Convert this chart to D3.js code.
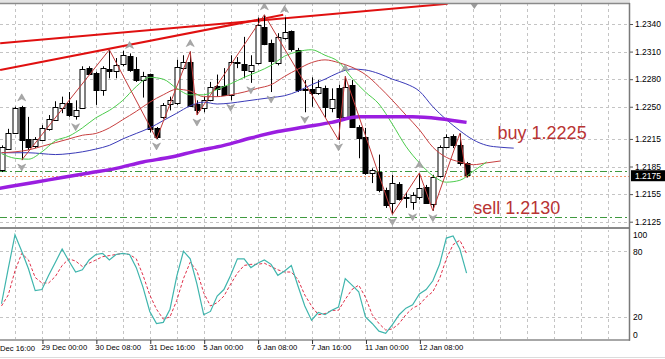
<!DOCTYPE html>
<html>
<head>
<meta charset="utf-8">
<script src="https://d3js.org/d3.v7.min.js"></script>
<style>
  body { margin: 0; background: #fff; }
  svg { display: block; }
</style>
</head>
<body>
<div id="chart"></div>
<script>
const WIDTH = 665, HEIGHT = 359;
const AXIS_X = 630;
const MAIN = { TOP: 3, BOTTOM: 227 };
const STO = { TOP: 229, BOTTOM: 340 };

// H4 candles, one entry per bar
const barOpen  = [1.2181,1.2205,1.2222,1.2250,1.2215,1.2207,1.2214,1.2226,1.2236,1.2249,1.2254,1.2240,1.2249,1.2292,1.2287,1.2268,1.2291,1.2288,1.2296,1.2305,1.2291,1.2279,1.2286,1.2227,1.2239,1.2253,1.2254,1.2292,1.2299,1.2253,1.2248,1.2258,1.2273,1.2273,1.2263,1.2299,1.2296,1.2288,1.2298,1.2337,1.2319,1.2298,1.2325,1.2332,1.2312,1.2269,1.2269,1.2265,1.2270,1.2248,1.2270,1.2239,1.2274,1.2228,1.2217,1.2178,1.2179,1.2159,1.2145,1.2166,1.2152,1.2146,1.2152,1.2163,1.2145,1.2174,1.2206,1.2218,1.2208,1.2189];
const barHigh  = [1.2208,1.2226,1.2250,1.2251,1.2239,1.2217,1.2230,1.2241,1.2256,1.2261,1.2266,1.2257,1.2294,1.2294,1.2288,1.2294,1.2312,1.2303,1.2311,1.2308,1.2304,1.2288,1.2286,1.2228,1.2254,1.2261,1.2301,1.2306,1.2310,1.2257,1.2261,1.2277,1.2285,1.2292,1.2306,1.2304,1.2326,1.2306,1.2347,1.2350,1.2323,1.2330,1.2347,1.2333,1.2314,1.2279,1.2282,1.2279,1.2273,1.2270,1.2274,1.2283,1.2279,1.2230,1.2227,1.2183,1.2198,1.2162,1.2176,1.2168,1.2157,1.2157,1.2178,1.2165,1.2176,1.2208,1.2220,1.2220,1.2221,1.2190];
const barLow   = [1.2179,1.2203,1.2221,1.2192,1.2203,1.2205,1.2213,1.2224,1.2235,1.2243,1.2239,1.2236,1.2248,1.2285,1.2252,1.2262,1.2281,1.2281,1.2294,1.2288,1.2277,1.2260,1.2222,1.2215,1.2237,1.2246,1.2252,1.2290,1.2250,1.2241,1.2244,1.2256,1.2261,1.2262,1.2257,1.2292,1.2281,1.2276,1.2296,1.2317,1.2266,1.2295,1.2323,1.2310,1.2266,1.2244,1.2250,1.2263,1.2238,1.2244,1.2214,1.2236,1.2227,1.2194,1.2176,1.2167,1.2157,1.2140,1.2133,1.2148,1.2140,1.2138,1.2149,1.2145,1.2137,1.2173,1.2205,1.2205,1.2186,1.2173];
const barClose = [1.2206,1.2222,1.2249,1.2214,1.2206,1.2215,1.2227,1.2237,1.2250,1.2254,1.2241,1.2246,1.2291,1.2286,1.2268,1.2292,1.2289,1.2295,1.2306,1.2290,1.2279,1.2283,1.2226,1.2217,1.2252,1.2257,1.2293,1.2299,1.2251,1.2246,1.2257,1.2272,1.2270,1.2263,1.2299,1.2298,1.2289,1.2295,1.2339,1.2319,1.2299,1.2326,1.2331,1.2312,1.2268,1.2268,1.2265,1.2272,1.2249,1.2258,1.2239,1.2272,1.2228,1.2216,1.2178,1.2181,1.2159,1.2143,1.2167,1.2150,1.2151,1.2154,1.2162,1.2146,1.2174,1.2206,1.2217,1.2208,1.2188,1.2176];

// shifted averages, read every 2nd bar from bar 0
const lips  = [1.2199,1.2194,1.2193,1.2201,1.2213,1.2218,1.2227,1.2238,1.2246,1.2257,1.2272,1.2282,1.2280,1.2270,1.2263,1.2263,1.2269,1.2275,1.2282,1.2288,1.2295,1.2305,1.2310,1.2312,1.2306,1.2299,1.2281,1.2266,1.2253,1.2231,1.2207,1.2189,1.2175,1.2168,1.2170,1.2180,1.2190];
const teeth = [1.2200,1.2201,1.2203,1.2207,1.2211,1.2215,1.2219,1.2221,1.2227,1.2236,1.2245,1.2255,1.2263,1.2269,1.2267,1.2261,1.2261,1.2263,1.2266,1.2270,1.2274,1.2283,1.2291,1.2298,1.2301,1.2298,1.2293,1.2285,1.2272,1.2257,1.2241,1.2225,1.2206,1.2195,1.2190,1.2187,1.2189,1.2191];
const jaw   = [1.2200,1.2200,1.2200,1.2199,1.2198,1.2199,1.2201,1.2204,1.2208,1.2215,1.2221,1.2227,1.2235,1.2243,1.2251,1.2255,1.2253,1.2254,1.2256,1.2258,1.2260,1.2262,1.2267,1.2274,1.2280,1.2287,1.2291,1.2290,1.2286,1.2280,1.2275,1.2267,1.2250,1.2236,1.2224,1.2214,1.2208,1.2206,1.2205];
// long average, read every 4th bar from bar -3
const longMa = [1.2158,1.2163,1.2168,1.2173,1.2178,1.2183,1.2190,1.2195,1.2202,1.2208,1.2216,1.2223,1.2228,1.2233,1.2239,1.2239,1.2239,1.2237,1.2233];

// zigzag turning bars, starting on a low
const zigzagBars = [3,16,23,28,29,39,50,51,58,62,64,68,69];
const fractalUp = [3,19,28,39,42,51,62];
const fractalDown = [3,11,23,29,34,37,40,45,50,58,61,64];

// trend lines: [bar, price, bar, price]
const trendLines = [[-0.2,1.2319,66.2,1.2362],[-0.2,1.2290,41.8,1.2350]];
const levelLines = [1.2180, 1.2130];
const bidPrice = 1.2175;
const notes = [{ text: "buy 1.2225", bar: 73.6, price: 1.2215 }, { text: "sell 1.2130", bar: 70, price: 1.2133 }];

// stochastic, one value per bar
const stoMain   = [32,64,95,80,64,44,45,58,70,82,71,61,63,72,77,78,72,77,78,77,65,47,25,14,15,27,57,80,73,50,22,25,39,45,58,73,73,65,69,72,68,58,62,67,48,30,17,24,22,26,29,55,49,43,20,14,7,5,13,22,28,31,41,45,53,68,92,94,82,60];
const stoSignal = [30,40,62,78,72,56,51,51,57,67,73,71,66,69,72,75,76,77,78,77,73,58,40,27,18,20,35,55,70,62,42,30,33,39,50,60,67,68,68,69,66,63,61,61,54,40,30,22,23,26,26,36,45,49,38,22,14,8,9,14,22,28,31,38,43,55,73,86,90,78];

const priceTicks = [1.2340,1.2310,1.2280,1.2250,1.2215,1.2185,1.2155,1.2125];
const stoTicks = [100,80,20,0];
const timeBars = [6,14,22,30,38,46,54,62];
const timeLabels = ["29 Dec 00:00","30 Dec 08:00","31 Dec 16:00","5 Jan 00:00","6 Jan 08:00","7 Jan 16:00","11 Jan 00:00","12 Jan 08:00"];
const gridBars = d3.range(2, 92, 4);

const FONT = "Liberation Sans, Arial, sans-serif";

const x = d3.scaleLinear().domain([0, 90]).range([1.5, 1.5 + 6.74 * 90]);
const y = d3.scaleLinear().domain([1.2125, 1.2340]).range([221.7, 24]);
const ys = d3.scaleLinear().domain([0, 100]).range([338.8, 229.3]);

const svg = d3.select('#chart')
    .append('svg')
    .attr('width', WIDTH)
    .attr('height', HEIGHT);

svg.append('rect').attr('width', WIDTH).attr('height', HEIGHT).attr('fill', '#fff');

const defs = svg.append('defs');
defs.append('clipPath').attr('id', 'clip-main')
    .append('rect').attr('x', 0).attr('y', MAIN.TOP + 1).attr('width', AXIS_X).attr('height', MAIN.BOTTOM - MAIN.TOP - 1);
defs.append('clipPath').attr('id', 'clip-sto')
    .append('rect').attr('x', 0).attr('y', STO.TOP + 1).attr('width', AXIS_X).attr('height', STO.BOTTOM - STO.TOP - 2);

const main = svg.append('g').attr('clip-path', 'url(#clip-main)');
const sto = svg.append('g').attr('clip-path', 'url(#clip-sto)');

// grid
[[main, MAIN], [sto, STO]].forEach(([g, p]) => {
  g.selectAll('.vgrid').data(gridBars).enter().append('line')
      .attr('x1', d => Math.round(x(d)) + 0.5).attr('x2', d => Math.round(x(d)) + 0.5)
      .attr('y1', p.TOP).attr('y2', p.BOTTOM)
      .attr('stroke', '#c4c4c4').attr('stroke-dasharray', '3,3');
});
main.selectAll('.hgrid').data(priceTicks).enter().append('line')
    .attr('x1', 0).attr('x2', AXIS_X)
    .attr('y1', d => Math.round(y(d)) + 0.5).attr('y2', d => Math.round(y(d)) + 0.5)
    .attr('stroke', '#c4c4c4').attr('stroke-dasharray', '3,3');
sto.selectAll('.hgrid').data([80, 20]).enter().append('line')
    .attr('x1', 0).attr('x2', AXIS_X)
    .attr('y1', d => Math.round(ys(d)) + 0.5).attr('y2', d => Math.round(ys(d)) + 0.5)
    .attr('stroke', '#c4c4c4').attr('stroke-dasharray', '3,3');

// level lines
main.selectAll('.level').data(levelLines).enter().append('line')
    .attr('x1', 0).attr('x2', AXIS_X)
    .attr('y1', d => Math.round(y(d)) + 0.5).attr('y2', d => Math.round(y(d)) + 0.5)
    .attr('stroke', '#3f9a3f').attr('stroke-dasharray', '7,3,2,3');
main.append('line')
    .attr('x1', 0).attr('x2', AXIS_X)
    .attr('y1', Math.round(y(bidPrice)) + 0.5).attr('y2', Math.round(y(bidPrice)) + 0.5)
    .attr('stroke', '#f0926a').attr('stroke-dasharray', '2,2');

// trend lines
main.selectAll('.trend').data(trendLines).enter().append('line')
    .attr('x1', d => x(d[0])).attr('y1', d => y(d[1]))
    .attr('x2', d => x(d[2])).attr('y2', d => y(d[3]))
    .attr('stroke', '#e01010').attr('stroke-width', 2);

// candles
const bars = d3.range(barOpen.length);
main.selectAll('.wick').data(bars).enter().append('line')
    .attr('x1', i => Math.round(x(i)) + 0.5).attr('x2', i => Math.round(x(i)) + 0.5)
    .attr('y1', i => y(barHigh[i])).attr('y2', i => y(barLow[i]))
    .attr('stroke', '#000');
main.selectAll('.body').data(bars).enter().append('rect')
    .attr('x', i => Math.round(x(i)) - 2)
    .attr('y', i => Math.round(y(Math.max(barOpen[i], barClose[i]))) + 0.5)
    .attr('width', 5)
    .attr('height', i => Math.max(1, Math.round(Math.abs(y(barOpen[i]) - y(barClose[i])))))
    .attr('fill', i => barClose[i] >= barOpen[i] ? '#fff' : '#000')
    .attr('stroke', '#000');

// moving averages
const maLine = d3.line().x(d => x(d[0])).y(d => y(d[1])).curve(d3.curveMonotoneX);
const maSpecs = [
  { vals: jaw, start: 0, step: 2, color: '#3a3ab8', width: 1 },
  { vals: teeth, start: 0, step: 2, color: '#c84040', width: 1 },
  { vals: lips, start: 0, step: 2, color: '#4ccc4c', width: 1 },
  { vals: longMa, start: -3, step: 4, color: '#9a1ee0', width: 3.5 }
];
maSpecs.forEach(s => {
  main.append('path')
      .datum(s.vals.map((v, k) => [s.start + k * s.step, v]))
      .attr('d', maLine)
      .attr('fill', 'none')
      .attr('stroke', s.color)
      .attr('stroke-width', s.width);
});

// zigzag
const zz = zigzagBars.map((b, k) => [b, k % 2 === 0 ? barLow[b] : barHigh[b]]);
main.append('path')
    .datum(zz)
    .attr('d', d3.line().x(d => x(d[0])).y(d => y(d[1])))
    .attr('fill', 'none')
    .attr('stroke', '#c23a3a')
    .attr('stroke-width', 1);

// fractal arrows
const arrowUp = 'M0,-4L4,3L0,1L-4,3Z';
main.selectAll('.fup').data(fractalUp).enter().append('path')
    .attr('d', arrowUp)
    .attr('transform', b => `translate(${x(b)},${y(barHigh[b]) - 8})`)
    .attr('fill', '#a8a8a8').attr('stroke', '#8c8c8c').attr('stroke-width', 0.5);
main.selectAll('.fdn').data(fractalDown).enter().append('path')
    .attr('d', arrowUp)
    .attr('transform', b => `translate(${x(b)},${y(barLow[b]) + 7}) scale(1,-1)`)
    .attr('fill', '#a8a8a8').attr('stroke', '#8c8c8c').attr('stroke-width', 0.5);

// notes
main.selectAll('.note').data(notes).enter().append('text')
    .attr('x', d => x(d.bar)).attr('y', d => y(d.price))
    .attr('font-family', FONT).attr('font-size', '18px')
    .attr('fill', '#b83434')
    .text(d => d.text);

// stochastic
const stoLine = d3.line().x((d, i) => x(i)).y(d => ys(d));
sto.append('path').datum(stoSignal).attr('d', stoLine)
    .attr('fill', 'none').attr('stroke', '#e0304a').attr('stroke-dasharray', '3,2');
sto.append('path').datum(stoMain).attr('d', stoLine)
    .attr('fill', 'none').attr('stroke', '#3fb5ad').attr('stroke-width', 1.2);

// frame
svg.append('rect').attr('x', 0).attr('y', 0).attr('width', AXIS_X).attr('height', MAIN.TOP).attr('fill', '#e4e4e4');
svg.append('line').attr('x1', 0).attr('x2', AXIS_X).attr('y1', MAIN.TOP + 0.5).attr('y2', MAIN.TOP + 0.5)
    .attr('stroke', '#8a8a8a').attr('stroke-width', 1.5);
svg.append('line').attr('x1', 0).attr('x2', AXIS_X).attr('y1', 228).attr('y2', 228)
    .attr('stroke', '#8a8a8a').attr('stroke-width', 2);
svg.append('line').attr('x1', 0).attr('x2', AXIS_X).attr('y1', STO.BOTTOM).attr('y2', STO.BOTTOM)
    .attr('stroke', '#8a8a8a').attr('stroke-width', 1.5);
svg.append('line').attr('x1', AXIS_X - 0.5).attr('x2', AXIS_X - 0.5).attr('y1', MAIN.TOP).attr('y2', STO.BOTTOM + 0.75)
    .attr('stroke', '#7a7a7a').attr('stroke-width', 1.5);
svg.append('line').attr('x1', 0).attr('x2', WIDTH).attr('y1', 357.5).attr('y2', 357.5)
    .attr('stroke', '#dcdcdc');

// shift marker
svg.append('path').attr('d', 'M-3.5,0L3.5,0L0,5Z')
    .attr('transform', `translate(${x(70) + 1},${MAIN.TOP + 1})`)
    .attr('fill', '#9a9a9a');

// price axis
const priceAxis = svg.append('g')
    .attr('transform', `translate(${AXIS_X},0)`)
    .call(d3.axisRight(y).tickValues(priceTicks).tickFormat(d3.format('.4f')).tickSize(3).tickPadding(2))
    .call(g => g.select('.domain').remove());
priceAxis.selectAll('text').attr('font-family', FONT).attr('font-size', '8.5px').attr('fill', '#000');
priceAxis.selectAll('line').attr('stroke', '#555');

// bid label
const bidY = y(bidPrice);
svg.append('rect').attr('x', AXIS_X + 1).attr('y', bidY - 5.5).attr('width', WIDTH - AXIS_X - 1).attr('height', 11)
    .attr('fill', '#000');
svg.append('text').attr('x', AXIS_X + 5).attr('y', bidY + 3)
    .attr('font-family', FONT).attr('font-size', '8.5px').attr('fill', '#fff')
    .text(d3.format('.4f')(bidPrice));

// stochastic axis
const stoAxis = svg.append('g')
    .attr('transform', `translate(${AXIS_X},0)`)
    .call(d3.axisRight(ys).tickValues(stoTicks).tickSize(0).tickPadding(3))
    .call(g => g.select('.domain').remove());
stoAxis.selectAll('text')
    .attr('font-family', FONT).attr('font-size', '8.5px').attr('fill', '#000')
    .attr('dy', d => d === 100 ? 8.7 : d === 0 ? -1.3 : 3);

// time axis
const timeAxis = svg.append('g')
    .attr('transform', `translate(0,${STO.BOTTOM})`)
    .call(d3.axisBottom(x).tickValues(timeBars).tickFormat((d, i) => timeLabels[i]).tickSize(4).tickPadding(1))
    .call(g => g.select('.domain').remove());
timeAxis.selectAll('line').attr('stroke', '#333').attr('transform', 'translate(0.5,0)');
timeAxis.selectAll('text')
    .attr('font-family', FONT).attr('font-size', '7.7px').attr('fill', '#000')
    .attr('text-anchor', 'start').attr('dx', -1);
svg.append('text').attr('x', 0).attr('y', 351)
    .attr('font-family', FONT).attr('font-size', '7.7px').attr('fill', '#000')
    .text('Dec 16:00');
</script>
</body>
</html>
